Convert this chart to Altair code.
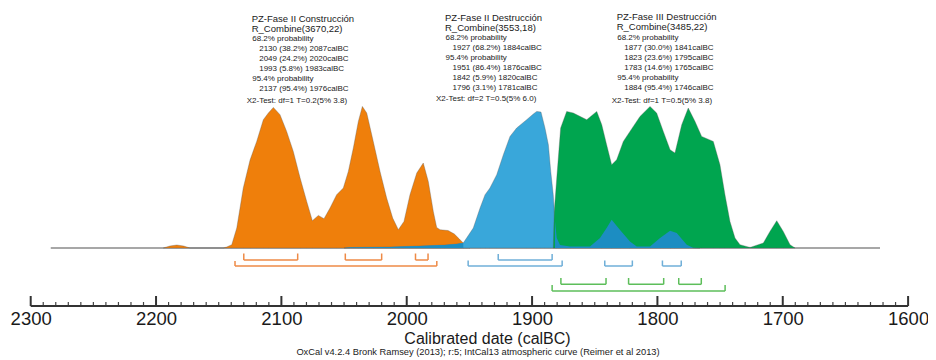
import altair as alt
import pandas as pd

FONT = "Liberation Sans"

# ---------------- data ----------------
orange_year = [2194.2, 2189.0, 2183.5, 2178.0, 2172.9, 2146.3, 2143.6, 2139.6, 2135.6, 2130.4, 2125.0,
               2119.7, 2114.4, 2110.4, 2106.4, 2101.1, 2095.8, 2090.5, 2085.1, 2079.8, 2075.3,
               2070.5, 2066.0, 2061.2, 2055.9, 2050.6, 2046.6, 2042.6, 2038.6, 2035.4, 2031.9,
               2026.7, 2021.3, 2016.0, 2011.2, 2006.7, 2002.2, 1997.4, 1992.0, 1986.8, 1982.8,
               1978.8, 1976.1, 1973.4, 1967.0, 1962.0, 1958.0, 1954.9, 1952.1, 1949.5]
orange_dens = [0, 2, 3, 2, 0, 0, 1, 3.3, 20, 60, 88,
               106.6, 128.3, 135, 140.6, 133.3, 116.6, 96.6, 70.3, 46.6, 27.3,
               32.6, 29.3, 40, 53.3, 60, 76.6, 100, 126.6, 141.6, 135,
               106.6, 76.6, 50, 30, 18.3, 26.6, 53.3, 75, 85, 66.6,
               36.6, 20.6, 18.3, 17.5, 14, 9, 5, 1.5, 0]

blue_year = [2050.0, 2045.3, 2013.3, 1989.4, 1969.5, 1960.1, 1954.9, 1946.9, 1941.5, 1937.5, 1933.6,
             1928.2, 1922.9, 1917.6, 1912.3, 1904.3, 1899.0, 1896.3, 1892.9, 1889.7, 1887.0,
             1885.1, 1883.1, 1881.7, 1880.3, 1877.7, 1869.7, 1853.8, 1845.8, 1840.5, 1836.5,
             1829.8, 1821.9, 1816.5, 1805.9, 1797.9, 1789.9, 1784.6, 1776.6, 1771.6, 1766.0]
blue_dens = [0, 0.5, 1, 2, 3, 4, 5, 20, 40, 53.3, 60,
             73.3, 93.3, 111.6, 120, 128.3, 134, 136.6, 136, 120, 103.3,
             76.6, 53.3, 26.6, 10, 3, 1.5, 1.5, 10, 20, 28.3,
             18, 6.6, 1.6, 1.6, 10, 17.3, 15, 3.3, 0.3, 0]

green_year = [1883.1, 1882.3, 1880.3, 1877.2, 1872.4, 1867.1, 1856.4, 1848.4, 1844.4, 1840.5,
              1836.5, 1832.5, 1827.2, 1821.9, 1813.9, 1805.9, 1800.6, 1795.3, 1789.9, 1786.0,
              1780.6, 1775.4, 1770.0, 1764.7, 1755.4, 1750.1, 1746.1, 1742.1, 1738.1, 1734.1,
              1726.1, 1715.5, 1710.2, 1704.8, 1699.6, 1694.2, 1690.2]
green_dens = [0, 36.6, 70, 120, 136.6, 135, 128.3, 136.6, 123.3, 103.3,
              83.3, 88.3, 106.6, 116.6, 131.6, 141.6, 135, 116.6, 98.3, 95,
              123.3, 140, 126.6, 111.6, 106.6, 83.3, 53.3, 26.6, 10, 3.3,
              0.6, 5, 16.6, 27.3, 16.6, 3.3, 0]

baseline_span = [2284, 1622.4]

# highest-probability ranges (from, to) in calBC
orange_68 = [(2130, 2087), (2049, 2020), (1993, 1983)]
orange_95 = [(2137, 1976)]
blue_68 = [(1927, 1884)]
blue_95 = [(1951, 1876), (1842, 1820), (1796, 1781)]
green_68 = [(1877, 1841), (1823, 1795), (1783, 1765)]
green_95 = [(1884, 1746)]

block1 = ["PZ-Fase II Construcción", "R_Combine(3670,22)", "68.2% probability",
          "2130 (38.2%) 2087calBC", "2049 (24.2%) 2020calBC", "1993 (5.8%) 1983calBC",
          "95.4% probability", "2137 (95.4%) 1976calBC", "X2-Test: df=1 T=0.2(5% 3.8)"]
block2 = ["PZ-Fase II  Destrucción", "R_Combine(3553,18)", "68.2% probability",
          "1927 (68.2%) 1884calBC", "95.4% probability", "1951 (86.4%) 1876calBC",
          "1842 (5.9%) 1820calBC", "1796 (3.1%) 1781calBC", "X2-Test: df=2 T=0.5(5% 6.0)"]
block3 = ["PZ-Fase III Destrucción", "R_Combine(3485,22)", "68.2% probability",
          "1877 (30.0%) 1841calBC", "1823 (23.6%) 1795calBC", "1783 (14.6%) 1765calBC",
          "95.4% probability", "1884 (95.4%) 1746calBC", "X2-Test: df=1 T=0.5(5% 3.8)"]

major_years = [2300, 2200, 2100, 2000, 1900, 1800, 1700, 1600]
minor_years = [y for y in range(1600, 2301, 10) if y % 100 != 0]

footnote = "OxCal v4.2.4 Bronk Ramsey (2013); r:5; IntCal13 atmospheric curve (Reimer et al 2013)"

# ---------------- styling / layout ----------------
ORANGE, BLUE, GREEN, DARK = "#EF7F0B", "#39A7DA", "#00A54F", "#1C8DC2"
SERIES = ["orange", "blue", "green"]
BRACKET_COLS = ["#EE8A46", "#6FAFD8", "#5DBE5A"]
TXT = "#1a1a1a"

X_SCALE = alt.Scale(domain=[2300, 1600], range=[22.7, 900.1], nice=False, zero=False)
Y_SCALE = alt.Scale(domain=[0, 142], range=[240, 98], nice=False, zero=False)
AXIS_Y = 298

X_AX = alt.Axis(values=major_years, format="d", ticks=False, tickSize=0, domain=False, grid=False,
                labelFont=FONT, labelFontSize=18.5, labelColor=TXT, labelPadding=18.5,
                labelBaseline="alphabetic", labelFlush=False, labelOverlap=False,
                title="Calibrated date (calBC)", titleFont=FONT, titleFontSize=16,
                titleFontWeight="normal", titleColor=TXT, titleX=479, titleY=37.5,
                titleBaseline="alphabetic", titleAlign="center")


def xenc(field):
    return alt.X(f"{field}:Q", scale=X_SCALE, axis=X_AX)


def yenc(field):
    return alt.Y(f"{field}:Q", scale=Y_SCALE, axis=None)


def dens_df(years, dens):
    return pd.DataFrame({"year": years, "d": dens})


orange_df = dens_df(orange_year, orange_dens)
blue_df = dens_df(blue_year, blue_dens)
green_df = dens_df(green_year, green_dens)

base = alt.Chart(pd.DataFrame({"a": [baseline_span[0]], "b": [baseline_span[1]]})).mark_rule(
    color="#8a8a8a", strokeWidth=1.3).encode(x=xenc("a"), x2="b:Q", y=alt.value(240))


def area(df, color, stroke=True):
    kw = dict(color=color, opacity=1)
    if stroke:
        kw.update(stroke="#555555", strokeWidth=0.6, strokeOpacity=0.55)
    return alt.Chart(df).mark_area(**kw).encode(x=xenc("year"), y=yenc("d"))


orange_a = area(orange_df, ORANGE)
blue_a = area(blue_df, BLUE)
green_a = area(green_df, GREEN)
dark_left = alt.Chart(blue_df).transform_filter("datum.year >= 1954.9").mark_area(
    color=DARK).encode(x=xenc("year"), y=yenc("d"))
dark_right = alt.Chart(blue_df).transform_filter("datum.year <= 1881.7").mark_area(
    color=DARK).encode(x=xenc("year"), y=yenc("d"))

# brackets
rows = [("orange", orange_68, 245.5, 252), ("orange", orange_95, 253, 258),
        ("blue", blue_68, 246, 252), ("blue", blue_95, 252.5, 258),
        ("green", green_68, 270, 276.3), ("green", green_95, 277, 283)]
hrows, vrows = [], []
for s, ranges, top, line in rows:
    for a, b in ranges:
        hrows.append({"series": s, "start": a, "end": b, "line": line})
        vrows.append({"series": s, "year": a, "top": top, "bottom": line})
        vrows.append({"series": s, "year": b, "top": top, "bottom": line})
bcolor = alt.Color("series:N", scale=alt.Scale(domain=SERIES, range=BRACKET_COLS), legend=None)
br_h = alt.Chart(pd.DataFrame(hrows)).mark_rule(strokeWidth=1.5).encode(
    x=xenc("start"), x2="end:Q", y=alt.Y("line:Q", scale=None), color=bcolor)
br_v = alt.Chart(pd.DataFrame(vrows)).mark_rule(strokeWidth=1.5).encode(
    x=xenc("year"), y=alt.Y("top:Q", scale=None), y2="bottom:Q", color=bcolor)

# axis ticks and line
tick_major = alt.Chart(pd.DataFrame({"year": major_years})).mark_rule(
    color="#333333", strokeWidth=2).encode(x=xenc("year"), y=alt.value(AXIS_Y - 10), y2=alt.value(AXIS_Y))
tick_minor = alt.Chart(pd.DataFrame({"year": minor_years})).mark_rule(
    color="#444444", strokeWidth=1.2).encode(x=xenc("year"), y=alt.value(AXIS_Y - 4), y2=alt.value(AXIS_Y))
axis_line = alt.Chart(pd.DataFrame({"a": [2300], "b": [1600]})).mark_rule(
    color="#333333", strokeWidth=2).encode(x=xenc("a"), x2="b:Q", y=alt.value(AXIS_Y))

# text blocks (layout in pixels relative to the plot area)
blocks = [(block1, 243.7, -13, [11, 21], 30.3, 92), (block2, 437, -17, [9.7, 19.2], 29.5, 90.5),
          (block3, 608.7, -13, [9, 19], 29.5, 92)]
trows = []
for lines, x0, x2dx, title_y, row0, x2y in blocks:
    k = 0
    for i, t in enumerate(lines):
        if i < 2:
            trows.append({"px": x0, "py": title_y[i] + 3.4, "text": t, "kind": "title"})
        elif t.startswith("X2"):
            trows.append({"px": x0 + x2dx + 8, "py": x2y + 2.9, "text": t, "kind": "small"})
        else:
            dx = 0.5 if t.endswith("probability") else 7.5
            trows.append({"px": x0 + dx, "py": row0 + 10 * k + 2.9, "text": t, "kind": "small"})
            k += 1
tdf = pd.DataFrame(trows)
title_txt = alt.Chart(tdf).transform_filter("datum.kind == 'title'").mark_text(
    align="left", baseline="alphabetic", font=FONT, fontSize=9.5, color=TXT).encode(
    x=alt.X("px:Q", scale=None), y=alt.Y("py:Q", scale=None), text="text:N")
small_txt = alt.Chart(tdf).transform_filter("datum.kind == 'small'").mark_text(
    align="left", baseline="alphabetic", font=FONT, fontSize=8, color=TXT).encode(
    x=alt.X("px:Q", scale=None), y=alt.Y("py:Q", scale=None), text="text:N")

foot = alt.Chart(pd.DataFrame({"t": [footnote]})).mark_text(
    align="center", baseline="alphabetic", font=FONT, fontSize=9.3, color=TXT).encode(
    x=alt.value(470), y=alt.value(346.8), text="t:N")

chart = alt.layer(
    base, orange_a, blue_a, green_a, dark_left, dark_right,
    br_h, br_v, tick_minor, tick_major, axis_line, title_txt, small_txt, foot
).properties(
    width=920, height=AXIS_Y,
    padding={"left": 0, "top": 0, "right": 0, "bottom": 52},
    autosize=alt.AutoSizeParams(type="none"),
    background="white",
).configure_view(stroke=None)

chart.save("out.html", embed_options={"renderer": "svg", "actions": False})
